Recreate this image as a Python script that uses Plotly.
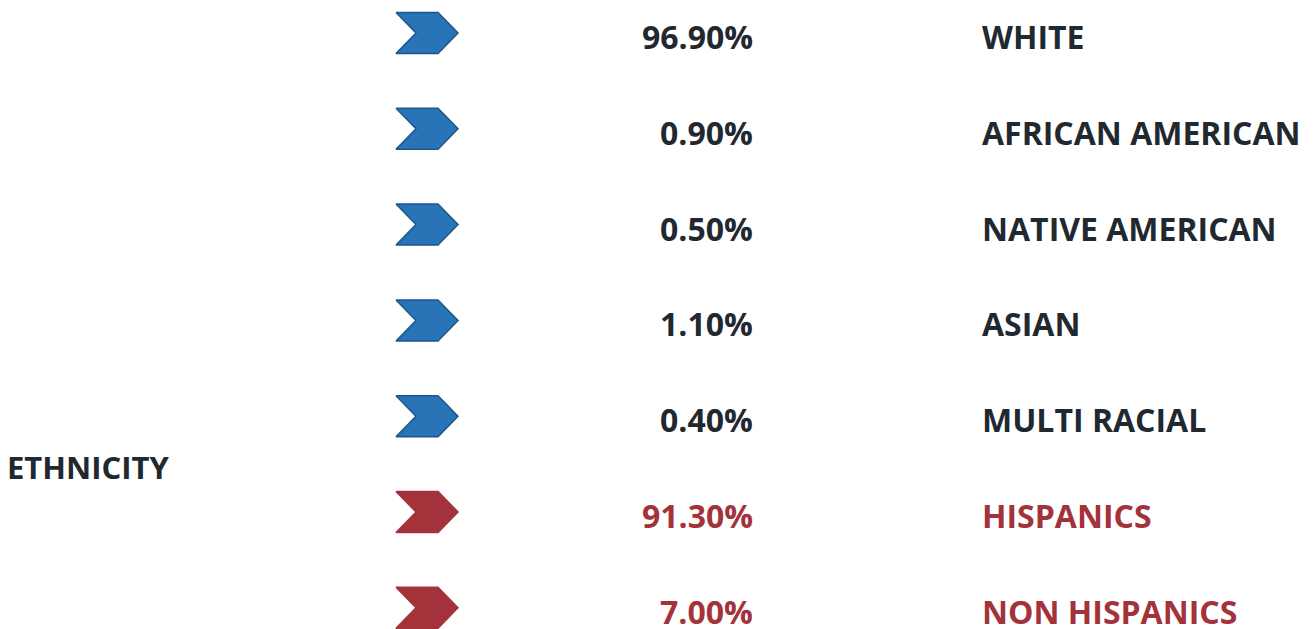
import plotly.graph_objects as go

# ---- data ----
categories = ["WHITE", "AFRICAN AMERICAN", "NATIVE AMERICAN", "ASIAN",
              "MULTI RACIAL", "HISPANICS", "NON HISPANICS"]
percent_values = [96.90, 0.90, 0.50, 1.10, 0.40, 91.30, 7.00]
group = ["race", "race", "race", "race", "race", "ethnicity", "ethnicity"]
side_label = "ETHNICITY"

# ---- styles ----
W, H = 1315, 629
OFF = 8  # page body margin
DARK = "#1f292f"
BLUE_FILL = "#2874b6"
BLUE_EDGE = "#1b568c"
RED = "#a3323a"
FONT = "Open Sans"

row0_px, row_step_px = 33, 95.8
def px_to_row(py):
    return (py - row0_px) / row_step_px

fig = go.Figure()

# chevron template (x in px, y in row units relative to center)
hh = 20.5 / row_step_px
cx0, cx_notch, cx_shoulder, cx_tip = 396, 416, 438, 458
for i, (cat, g) in enumerate(zip(categories, group)):
    xs = [cx0, cx_shoulder, cx_tip, cx_shoulder, cx0, cx_notch, cx0]
    ys = [i - hh, i - hh, i, i + hh, i + hh, i, i - hh]
    fill = BLUE_FILL if g == "race" else RED
    edge = BLUE_EDGE if g == "race" else RED
    fig.add_trace(go.Scatter(x=xs, y=ys, mode="lines", fill="toself",
                             fillcolor=fill, line=dict(color=edge, width=1.5),
                             hoverinfo="skip", showlegend=False))

text_shift = 3.0 / row_step_px
for i, (cat, v, g) in enumerate(zip(categories, percent_values, group)):
    col = DARK if g == "race" else RED
    fig.add_annotation(x=755, y=i + text_shift, text=f"<b>{v:.2f}%</b>",
                       xanchor="right", yanchor="middle", showarrow=False,
                       height=32, valign="middle",
                       font=dict(family=FONT, size=32, color=col))
    fig.add_annotation(x=980, y=i + text_shift, text=f"<b>{cat}</b>",
                       xanchor="left", yanchor="middle", showarrow=False,
                       height=32, valign="middle",
                       font=dict(family=FONT, size=32, color=col))

fig.add_annotation(x=9, y=px_to_row(467), text=f"<b>{side_label}</b>",
                   xanchor="left", yanchor="middle", showarrow=False, xshift=-4,
                   font=dict(family=FONT, size=31, color=DARK))

fig.update_xaxes(range=[OFF, W + OFF], visible=False, fixedrange=True)
fig.update_yaxes(range=[px_to_row(H + OFF), px_to_row(OFF)], visible=False, fixedrange=True)
fig.update_layout(width=W, height=H, margin=dict(l=0, r=0, t=0, b=0),
                  paper_bgcolor="white", plot_bgcolor="white")

fig.write_html("out.html")
